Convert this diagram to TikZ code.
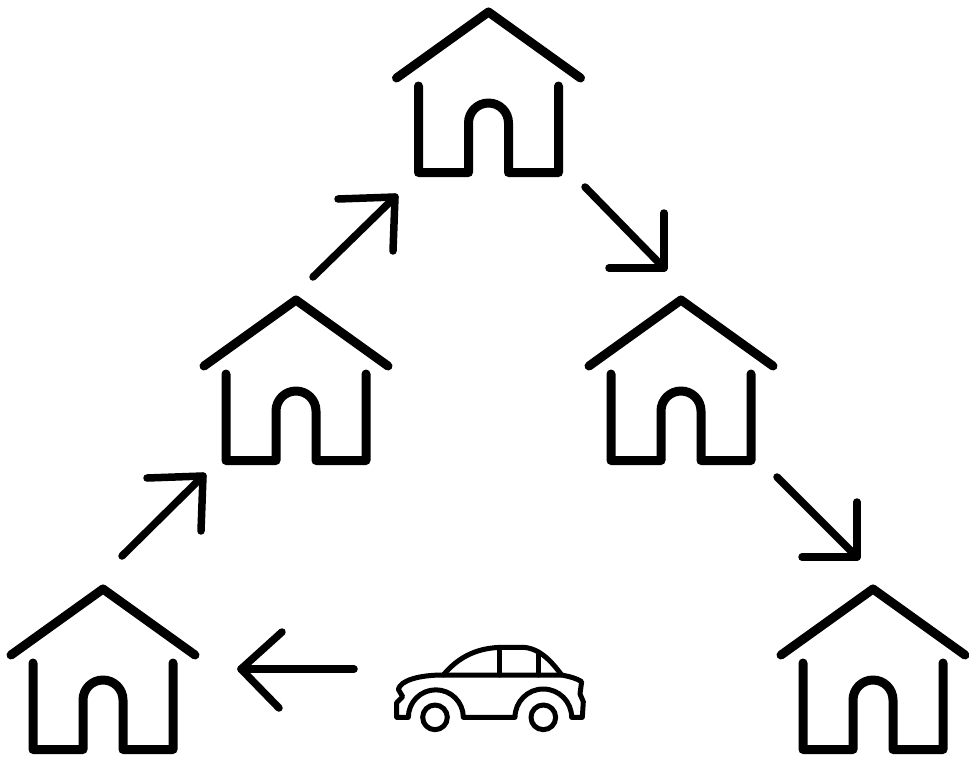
\documentclass[tikz,border=0pt]{standalone}
\tikzset{
  ink/.style={draw=black,line cap=round,line join=round},
  roofline/.style={ink,line width=9pt},
  wallline/.style={ink,line width=9pt},
  arrowline/.style={ink,line width=7.5pt},
  carline/.style={ink,line width=5pt},
  pics/house/.style={code={
    \draw[roofline] (-92,66) -- (0,0) -- (92,66);
    \draw[wallline] (-70,74) -- (-70,160.5) -- (-20,160.5) -- (-20,111)
      arc[start angle=180,end angle=360,radius=20] -- (20,160.5) -- (70,160.5) -- (70,74);
  }}
}
\begin{document}
\begin{tikzpicture}[x=1pt,y=-1pt]
\useasboundingbox (0,0) rectangle (969,761);
% houses
\pic at (488.5,12) {house};
\pic at (296,300) {house};
\pic at (681,300) {house};
\pic at (103,589) {house};
\pic at (873,589) {house};
% arrow points
\coordinate (a1s) at (122,556); \coordinate (a1e) at (203,476);
\coordinate (a2s) at (313,277); \coordinate (a2e) at (395,197);
\coordinate (a3s) at (585,187); \coordinate (a3e) at (664,268);
\coordinate (a4s) at (777,477); \coordinate (a4e) at (857,557);
\coordinate (a5s) at (354,669); \coordinate (a5e) at (241,669);
\draw[arrowline] (a1s) -- (a1e);
\draw[arrowline] (147,478) -- (a1e) -- (201,531);
\draw[arrowline] (a2s) -- (a2e);
\draw[arrowline] (338,199) -- (a2e) -- (393,251);
\draw[arrowline] (a3s) -- (a3e);
\draw[arrowline] (664,213) -- (a3e) -- (609,268);
\draw[arrowline] (a4s) -- (a4e);
\draw[arrowline] (857,502) -- (a4e) -- (802,557);
\draw[arrowline] (a5s) -- (a5e);
\draw[arrowline] (282,632) -- (a5e) -- (279,708);
% car
\begin{scope}[shift={(380,630)},x=0.3333pt,y=-0.3333pt]
  \draw[carline] (85,262) -- (50,262) -- (50,218) -- (68,200) -- (55,178)
    .. controls (62,150) and (120,135) .. (190,135)
    -- (545,135) .. controls (570,140) and (590,145) .. (605,155)
    -- (600,192) -- (610,215) -- (607,262) -- (575,262)
    arc[start angle=0,end angle=-180,radius=85] -- (250,262)
    arc[start angle=0,end angle=-180,radius=82.5];
  \draw[carline] (190,135) .. controls (240,75) and (300,52) .. (370,52)
    -- (430,52) .. controls (480,55) and (515,95) .. (545,135);
  \draw[carline] (360,55) -- (360,135);
  \draw[carline] (477,72) -- (477,135);
  \draw[carline] (165,262) circle[radius=37];
  \draw[carline] (490,262) circle[radius=37];
\end{scope}
\end{tikzpicture}
\end{document}
